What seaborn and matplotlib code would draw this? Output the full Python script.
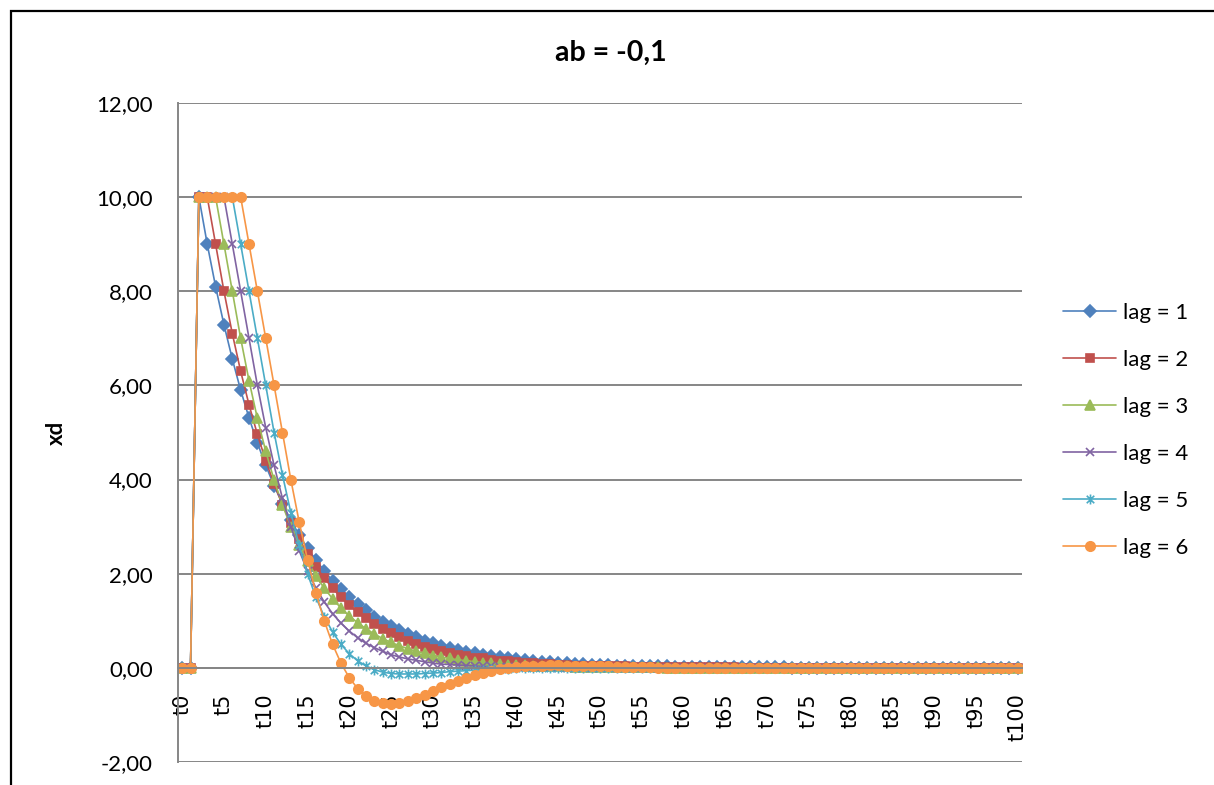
import numpy as np
import pandas as pd
import matplotlib
matplotlib.use("Agg")
import matplotlib.pyplot as plt
from matplotlib.path import Path
from matplotlib.patches import Rectangle
from matplotlib.ticker import FuncFormatter
import seaborn as sns

# ---------------- data ----------------
categories = ["t%d" % i for i in range(101)]

lag1 = [0, 0, 10, 9, 8.1, 7.29, 6.56, 5.9, 5.31, 4.78,
        4.3, 3.87, 3.49, 3.14, 2.82, 2.54, 2.29, 2.06, 1.85, 1.67,
        1.5, 1.35, 1.22, 1.09, 0.98, 0.89, 0.8, 0.72, 0.65, 0.58,
        0.52, 0.47, 0.42, 0.38, 0.34, 0.31, 0.28, 0.25, 0.23, 0.2,
        0.18, 0.16, 0.15, 0.13, 0.12, 0.11, 0.1, 0.09, 0.08, 0.07,
        0.06, 0.06, 0.05, 0.05, 0.04, 0.04, 0.03, 0.03, 0.03, 0.02,
        0.02, 0.02, 0.02, 0.02, 0.01, 0.01, 0.01, 0.01, 0.01, 0.01,
        0.01, 0.01, 0.01, 0, 0, 0, 0, 0, 0, 0,
        0, 0, 0, 0, 0, 0, 0, 0, 0, 0,
        0, 0, 0, 0, 0, 0, 0, 0, 0, 0,
        0]

lag2 = [0, 0, 10, 10, 9, 8, 7.1, 6.3, 5.59, 4.96,
        4.4, 3.91, 3.46, 3.07, 2.73, 2.42, 2.15, 1.91, 1.69, 1.5,
        1.33, 1.18, 1.05, 0.93, 0.83, 0.73, 0.65, 0.58, 0.51, 0.45,
        0.4, 0.36, 0.32, 0.28, 0.25, 0.22, 0.2, 0.17, 0.15, 0.14,
        0.12, 0.11, 0.1, 0.09, 0.08, 0.07, 0.06, 0.05, 0.05, 0.04,
        0.04, 0.03, 0.03, 0.03, 0.02, 0.02, 0.02, 0.02, 0.01, 0.01,
        0.01, 0.01, 0.01, 0.01, 0.01, 0.01, 0.01, 0, 0, 0,
        0, 0, 0, 0, 0, 0, 0, 0, 0, 0,
        0, 0, 0, 0, 0, 0, 0, 0, 0, 0,
        0, 0, 0, 0, 0, 0, 0, 0, 0, 0,
        0]

lag3 = [0, 0, 10, 10, 10, 9, 8, 7, 6.1, 5.3,
        4.6, 3.99, 3.46, 3.0, 2.6, 2.26, 1.96, 1.69, 1.47, 1.27,
        1.1, 0.96, 0.83, 0.72, 0.62, 0.54, 0.47, 0.41, 0.35, 0.31,
        0.26, 0.23, 0.2, 0.17, 0.15, 0.13, 0.11, 0.1, 0.08, 0.07,
        0.06, 0.06, 0.05, 0.04, 0.04, 0.03, 0.03, 0.02, 0.02, 0.02,
        0.02, 0.01, 0.01, 0.01, 0.01, 0.01, 0.01, 0.01, 0, 0,
        0, 0, 0, 0, 0, 0, 0, 0, 0, 0,
        0, 0, 0, 0, 0, 0, 0, 0, 0, 0,
        0, 0, 0, 0, 0, 0, 0, 0, 0, 0,
        0, 0, 0, 0, 0, 0, 0, 0, 0, 0,
        0]

lag4 = [0, 0, 10, 10, 10, 10, 9, 8, 7, 6,
        5.1, 4.3, 3.6, 3.0, 2.49, 2.06, 1.7, 1.4, 1.15, 0.95,
        0.78, 0.64, 0.52, 0.43, 0.35, 0.28, 0.23, 0.19, 0.16, 0.13,
        0.1, 0.08, 0.07, 0.06, 0.05, 0.04, 0.03, 0.03, 0.02, 0.02,
        0.01, 0.01, 0.01, 0.01, 0.01, 0, 0, 0, 0, 0,
        0, 0, 0, 0, 0, 0, 0, 0, 0, 0,
        0, 0, 0, 0, 0, 0, 0, 0, 0, 0,
        0, 0, 0, 0, 0, 0, 0, 0, 0, 0,
        0, 0, 0, 0, 0, 0, 0, 0, 0, 0,
        0, 0, 0, 0, 0, 0, 0, 0, 0, 0,
        0]

lag5 = [0, 0, 10, 10, 10, 10, 10, 9, 8, 7,
        6, 5, 4.1, 3.3, 2.6, 2.0, 1.5, 1.09, 0.76, 0.5,
        0.3, 0.15, 0.04, -0.04, -0.09, -0.12, -0.13, -0.13, -0.13, -0.12,
        -0.11, -0.1, -0.08, -0.07, -0.06, -0.05, -0.04, -0.03, -0.02, -0.02,
        -0.01, -0.01, -0.01, 0, 0, 0, 0, 0, 0, 0,
        0, 0, 0, 0, 0, 0, 0, 0, 0, 0,
        0, 0, 0, 0, 0, 0, 0, 0, 0, 0,
        0, 0, 0, 0, 0, 0, 0, 0, 0, 0,
        0, 0, 0, 0, 0, 0, 0, 0, 0, 0,
        0, 0, 0, 0, 0, 0, 0, 0, 0, 0,
        0]

lag6 = [0, 0, 10, 10, 10, 10, 10, 10, 9, 8,
        7, 6, 5, 4, 3.1, 2.3, 1.6, 1.0, 0.5, 0.1,
        -0.21, -0.44, -0.6, -0.7, -0.75, -0.76, -0.74, -0.7, -0.64, -0.57,
        -0.49, -0.41, -0.34, -0.27, -0.21, -0.15, -0.1, -0.06, -0.03, 0.0,
        0.02, 0.04, 0.05, 0.05, 0.06, 0.06, 0.05, 0.05, 0.04, 0.04,
        0.03, 0.03, 0.02, 0.02, 0.01, 0.01, 0.01, 0, 0, 0,
        0, 0, 0, 0, 0, 0, 0, 0, 0, 0,
        0, 0, 0, 0, 0, 0, 0, 0, 0, 0,
        0, 0, 0, 0, 0, 0, 0, 0, 0, 0,
        0, 0, 0, 0, 0, 0, 0, 0, 0, 0,
        0]

series_names = ["lag = 1", "lag = 2", "lag = 3", "lag = 4", "lag = 5", "lag = 6"]
series_values = [lag1, lag2, lag3, lag4, lag5, lag6]
title_text = "ab = -0,1"
y_label = "xd"

# ---------------- style ----------------
colors = ["#4F81BD", "#C0504D", "#9BBB59", "#8064A2", "#4BACC6", "#F79646"]
star = Path([(0, -1), (0, 1), (-0.75, -0.75), (0.75, 0.75), (-0.75, 0.75), (0.75, -0.75)],
            [Path.MOVETO, Path.LINETO, Path.MOVETO, Path.LINETO, Path.MOVETO, Path.LINETO])
markers = ["D", "s", "^", "x", star, "o"]
msizes = [5.8, 6.4, 7.2, 6.2, 7.2, 6.8]
grid_color = "#868686"

sns.set_style("white")
plt.rcParams["font.family"] = ["Lato", "DejaVu Sans"]
plt.rcParams["text.color"] = "black"
plt.rcParams["axes.labelcolor"] = "black"
plt.rcParams["xtick.color"] = "black"
plt.rcParams["ytick.color"] = "black"

W, H = 1214, 785
fig = plt.figure(figsize=(W / 100, H / 100), dpi=100)
ax = fig.add_axes([178 / W, (H - 762) / H, 844 / W, 659 / H])

df = pd.DataFrame({"pos": np.arange(len(categories)), "cat": categories})
for name, vals in zip(series_names, series_values):
    df[name] = vals

for name, color, mk, ms in zip(series_names, colors, markers, msizes):
    sns.lineplot(data=df, x="pos", y=name, ax=ax, color=color, marker=mk,
                 markersize=ms, markerfacecolor=color, markeredgecolor=color,
                 markeredgewidth=1.2, linewidth=1.2, label=name, legend=False)

# spines first (set_position resets tick properties)
for s in ["top", "right"]:
    ax.spines[s].set_visible(False)
ax.spines["left"].set_color(grid_color)
ax.spines["left"].set_linewidth(1.4)
ax.spines["bottom"].set_position(("data", 0))
ax.spines["bottom"].set_color(grid_color)
ax.spines["bottom"].set_linewidth(1.4)

ax.set_xlim(-0.5, len(categories) - 0.5)
ax.set_ylim(-2, 12)
ax.set_yticks(np.arange(-2, 13, 2))
ax.yaxis.set_major_formatter(FuncFormatter(lambda v, p: ("%.2f" % v).replace(".", ",")))
tick_pos = list(range(0, len(categories), 5))
ax.set_xticks(tick_pos)
ax.set_xticklabels([categories[i] for i in tick_pos])
ax.tick_params(axis="x", length=0, pad=18.5, labelrotation=90, labelsize=15,
               labelcolor="black")
for lbl in ax.get_xticklabels():
    lbl.set_fontfamily("DejaVu Sans")
ax.tick_params(axis="y", length=0, pad=18, labelsize=16, labelcolor="black")

ax.yaxis.grid(True, color=grid_color, linewidth=1.4)
ax.xaxis.grid(False)
ax.set_axisbelow(True)

ax.set_xlabel("")
ax.set_ylabel(y_label, fontsize=16, fontweight="bold", color="black")
ax.yaxis.label.set_va("center")
ax.yaxis.set_label_coords((56 - 178) / 844, 0.5)

fig.suptitle(title_text, x=611 / W, y=1 - 53 / H, ha="center", va="center",
             fontsize=20.5, fontweight="bold", color="black")

handles, labels = ax.get_legend_handles_labels()
ax.legend(handles, labels, loc="center left", bbox_to_anchor=(1063 / W, 1 - 430.5 / H),
          bbox_transform=fig.transFigure, frameon=False, borderpad=0, borderaxespad=0,
          handlelength=2.4, handletextpad=0.3, labelspacing=1.22, fontsize=16,
          labelcolor="black")

fig.add_artist(Rectangle((10.5 / W, -0.1), 1.2, 1.1 - 10.5 / H, transform=fig.transFigure,
                         fill=False, edgecolor="black", linewidth=1.6, clip_on=False))

fig.savefig("out.png", dpi=100)
